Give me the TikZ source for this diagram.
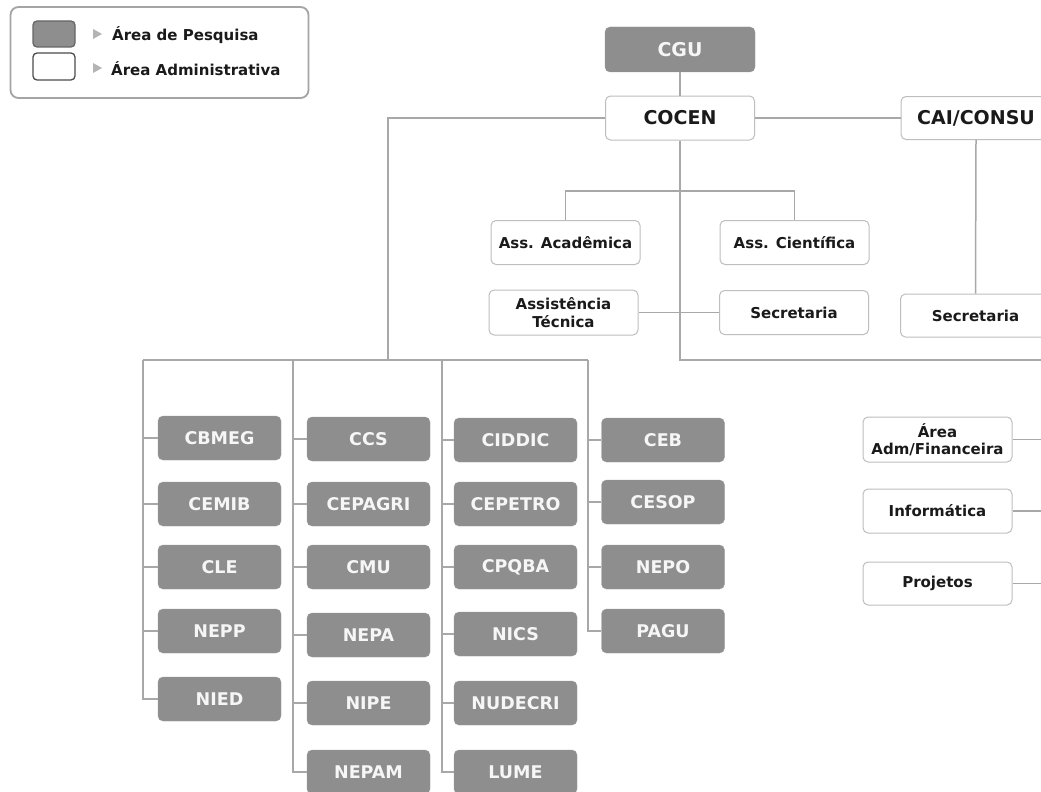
\documentclass[tikz,border=0pt]{standalone}
\usepackage{fontspec}
\setmainfont{DejaVu Sans}
\definecolor{boxgrey}{HTML}{8E8E8E}
\definecolor{boxedge}{HTML}{9C9C9C}
\definecolor{wedge}{HTML}{BEBEBE}
\definecolor{linegrey}{HTML}{A8A8A8}
\definecolor{boxtext}{HTML}{F6F6F6}
\definecolor{txt}{HTML}{1A1A1A}
\definecolor{legedge}{HTML}{A4A4A4}
\definecolor{tricol}{HTML}{B4B4B4}
\tikzset{
  gbox/.style={draw=boxedge, fill=boxgrey, rounded corners=5pt, minimum width=123pt, minimum height=44pt, inner sep=0pt, text=boxtext, font=\fontsize{17.5}{20}\selectfont\bfseries},
  wbox/.style={draw=wedge, line width=1pt, fill=white, rounded corners=5pt, minimum width=149pt, minimum height=44pt, inner sep=0pt, align=center, text=txt, font=\fontsize{15}{17.5}\selectfont\bfseries},
  topw/.style={wbox, minimum width=149pt, font=\fontsize{19}{22}\selectfont\bfseries},
  topg/.style={gbox, minimum width=150pt, minimum height=45pt, font=\fontsize{19}{22}\selectfont\bfseries},
  conn/.style={draw=linegrey, line width=1.5pt},
  legtext/.style={anchor=west, inner sep=0pt, text=txt, font=\fontsize{15}{17}\selectfont\bfseries},
  swatch/.style={line width=1.3pt, rounded corners=4pt, minimum width=42pt, minimum height=26pt, inner sep=0pt},
}
\begin{document}
\begin{tikzpicture}[x=1pt,y=-1pt]
\useasboundingbox (0,0) rectangle (1041,792);
\clip (0,0) rectangle (1041,792);
\fill[white] (0,0) rectangle (1041,792);

% legend
\node[draw=legedge, line width=1.8pt, rounded corners=8pt, minimum width=298pt, minimum height=91pt, inner sep=0pt] (legend) at (159.5,52.5) {};
\node[swatch, draw=black!60, fill=boxgrey] (swg) at (54,34) {};
\node[swatch, draw=black!70, fill=white, minimum height=27pt] (sww) at (54,66.5) {};
\fill[tricol] (93,29) -- (102,34) -- (93,39) -- cycle;
\fill[tricol] (93,63) -- (102,68) -- (93,73) -- cycle;
\node[legtext] (lg1) at (112,35) {Área de Pesquisa};
\node[legtext] (lg2) at (111,69) {Área Administrativa};

% top
\node[topg, text=boxtext] (cgu) at (680,49.5) {CGU};
\node[topw] (cocen) at (680,118) {COCEN};
\node[topw, minimum width=150pt, minimum height=43pt] (cai) at (976,118) {CAI/CONSU};

\node[wbox] (aa) at (565.5,242.5) {Ass. Acadêmica};
\node[wbox] (ac) at (794.5,242.5) {Ass. Científica};
\node[wbox, minimum height=45pt] (at) at (563.5,312.5) {Assistência\\Técnica};
\node[wbox] (sec1) at (794,312.5) {Secretaria};
\node[wbox, minimum width=150pt, minimum height=43pt] (sec2) at (975.5,315.5) {Secretaria};

\node[wbox, minimum height=45pt] (adm) at (937.5,439.5) {Área\\Adm/Financeira};
\node[wbox] (inf) at (937.5,511) {Informática};
\node[wbox, minimum height=43pt] (proj) at (937.5,583.5) {Projetos};

\coordinate (bar) at (680,191);
\coordinate (edge) at (1050,0);
\coordinate (rbot) at (1050,360);
\coordinate (lbus) at (388,360);
\coordinate (b1) at (143,360);
\coordinate (b2) at (293,360);
\coordinate (b3) at (442,360);
\coordinate (b4) at (588,360);

% column 1
\node[gbox] (cbmeg) at (219.5,438) {CBMEG};
\node[gbox] (cemib) at (219.5,504) {CEMIB};
\node[gbox] (cle) at (219.5,567) {CLE};
\node[gbox] (nepp) at (219.5,631) {NEPP};
\node[gbox] (nied) at (219.5,699) {NIED};
% column 2
\node[gbox] (ccs) at (368.5,439) {CCS};
\node[gbox] (cepagri) at (368.5,504) {CEPAGRI};
\node[gbox] (cmu) at (368.5,567) {CMU};
\node[gbox] (nepa) at (368.5,635) {NEPA};
\node[gbox] (nipe) at (368.5,703) {NIPE};
\node[gbox] (nepam) at (368.5,772) {NEPAM};
% column 3
\node[gbox] (ciddic) at (515.5,440) {CIDDIC};
\node[gbox] (cepetro) at (515.5,504) {CEPETRO};
\node[gbox] (cpqba) at (515.5,567) {CPQBA};
\node[gbox] (nics) at (515.5,634) {NICS};
\node[gbox] (nudecri) at (515.5,703) {NUDECRI};
\node[gbox] (lume) at (515.5,772) {LUME};
% column 4
\node[gbox] (ceb) at (663,440) {CEB};
\node[gbox] (cesop) at (663,502) {CESOP};
\node[gbox] (nepo) at (663,567) {NEPO};
\node[gbox] (pagu) at (663,631) {PAGU};

% connectors
\draw[conn] (cgu.south) -- (cocen.north);
\draw[conn] (cocen.east) -- (cai.west);
\draw[conn] (cai.south) -- (sec2.north);
\draw[conn] (cocen.south) |- (rbot);
\draw[conn] (aa.north) |- (bar) -| (ac.north);
\draw[conn] (at.east) -- (sec1.west);
\draw[conn] (cocen.west) -| (lbus);
\draw[conn] (b1) -- (b4);
\draw[conn] (adm.east) -- (adm.east -| edge);
\draw[conn] (inf.east) -- (inf.east -| edge);
\draw[conn] (proj.east) -- (proj.east -| edge);

\draw[conn] (b1) |- (nied.west);
\foreach \n in {cbmeg,cemib,cle,nepp} \draw[conn] (\n.west) -- (\n.west -| b1);
\draw[conn] (b2) |- (nepam.west);
\foreach \n in {ccs,cepagri,cmu,nepa,nipe} \draw[conn] (\n.west) -- (\n.west -| b2);
\draw[conn] (b3) |- (lume.west);
\foreach \n in {ciddic,cepetro,cpqba,nics,nudecri} \draw[conn] (\n.west) -- (\n.west -| b3);
\draw[conn] (b4) |- (pagu.west);
\foreach \n in {ceb,cesop,nepo} \draw[conn] (\n.west) -- (\n.west -| b4);
\end{tikzpicture}
\end{document}
